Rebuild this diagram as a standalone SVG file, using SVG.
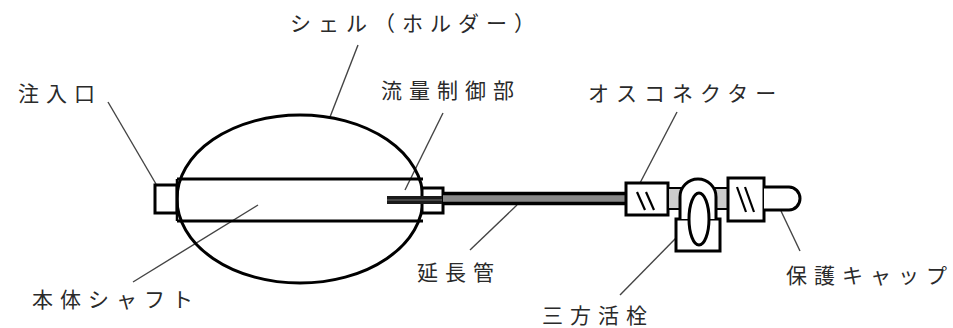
<svg xmlns="http://www.w3.org/2000/svg" width="953" height="328" viewBox="0 0 953 328">
  <style>
    .lbl { font-family: "Noto Sans CJK JP", "Noto Sans", sans-serif; fill: #2a2a2a; font-size: 21px; letter-spacing: 7px; }
    .part { fill: #fff; stroke: #000; stroke-width: 3; }
    .thin { fill: none; stroke: #000; stroke-width: 2.2; }
    .lead { fill: none; stroke: #444; stroke-width: 1.4; }
  </style>
  <rect width="953" height="328" fill="#fff"/>

  <!-- leader lines -->
  <g id="connectors">
    <line class="lead" x1="108" y1="102" x2="156" y2="184"/>
    <line class="lead" x1="358" y1="45" x2="330" y2="117"/>
    <line class="lead" x1="443" y1="113" x2="405" y2="190"/>
    <line class="lead" x1="677" y1="112" x2="640" y2="183"/>
    <line class="lead" x1="133" y1="282" x2="258" y2="205"/>
    <line class="lead" x1="470" y1="250" x2="517" y2="205"/>
    <line class="lead" x1="620" y1="295" x2="676" y2="238"/>
    <line class="lead" x1="800" y1="251" x2="781" y2="211"/>
  </g>

  <!-- shell (holder) -->
  <g id="shell">
    <ellipse cx="300" cy="199" rx="123" ry="84" fill="none" stroke="#000" stroke-width="3"/>
  </g>

  <!-- injection port -->
  <g id="inlet">
    <rect class="part" x="155" y="185" width="22" height="28" stroke-width="2.5"/>
  </g>

  <!-- main body shaft -->
  <g id="shaft">
    <line x1="177" y1="179" x2="423" y2="179" stroke="#000" stroke-width="3"/>
    <line x1="177" y1="221" x2="423" y2="221" stroke="#000" stroke-width="3"/>
    <line x1="177" y1="179" x2="177" y2="221" stroke="#000" stroke-width="2.5"/>
  </g>

  <!-- flow control part -->
  <g id="flow-control">
    <rect class="part" x="422" y="188" width="21" height="25" stroke-width="2.5"/>
    <rect x="387" y="196" width="55" height="8" fill="#1a1a1a"/>
    <line x1="387" y1="200" x2="442" y2="200" stroke="#555" stroke-width="1.5"/>
  </g>

  <!-- extension tube -->
  <g id="tube">
    <rect x="443" y="193" width="183" height="11" fill="#888"/>
    <line x1="443" y1="193.5" x2="626" y2="193.5" stroke="#000" stroke-width="3.5"/>
    <line x1="443" y1="203.5" x2="626" y2="203.5" stroke="#000" stroke-width="3.5"/>
  </g>

  <!-- male connector -->
  <g id="male-connector">
    <rect class="part" x="626" y="183" width="42" height="32"/>
    <line class="thin" x1="637" y1="192" x2="645" y2="210"/>
    <line class="thin" x1="646" y1="192" x2="654" y2="210"/>
  </g>

  <!-- three-way stopcock -->
  <g id="stopcock">
    <rect x="668" y="188" width="60" height="21" fill="#ccc" stroke="#000" stroke-width="2"/>
    <rect class="part" x="676" y="219" width="44" height="32"/>
    <path class="part" d="M680,219 V197 A18,18 0 0 1 716,197 V219"/>
    <ellipse class="part" cx="699" cy="219" rx="10" ry="26"/>
  </g>

  <!-- second connector -->
  <g id="connector-2">
    <rect class="part" x="728" y="178" width="36" height="43"/>
    <line class="thin" x1="737" y1="187" x2="746" y2="212"/>
    <line class="thin" x1="745" y1="187" x2="754" y2="212"/>
  </g>

  <!-- protective cap -->
  <g id="cap">
    <path class="part" d="M764,187 H789 A11,11.5 0 0 1 789,210 H764" stroke-width="2.5"/>
  </g>

  <!-- labels -->
  <g id="labels">
    <text class="lbl" x="18" y="101" font-size="22" letter-spacing="6">注入口</text>
    <text class="lbl" x="290" y="31" font-size="20">シェル（ホルダー）</text>
    <text class="lbl" x="381" y="98" font-size="22" letter-spacing="7.5">流量制御部</text>
    <text class="lbl" x="588" y="101">オスコネクター</text>
    <text class="lbl" x="32" y="307">本体シャフト</text>
    <text class="lbl" x="417" y="280" font-size="22" letter-spacing="6">延長管</text>
    <text class="lbl" x="542" y="323" font-size="22" letter-spacing="6">三方活栓</text>
    <text class="lbl" x="786" y="283" letter-spacing="5.5">保護キャップ</text>
  </g>
</svg>
